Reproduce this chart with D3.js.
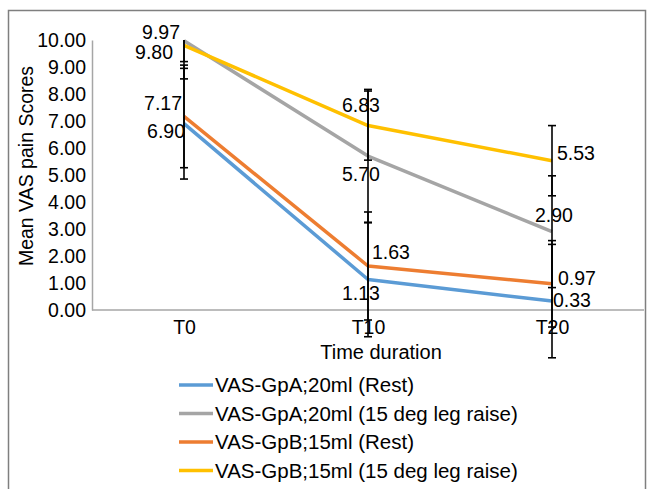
<!DOCTYPE html>
<html>
<head>
<meta charset="utf-8">
<script src="https://cdn.jsdelivr.net/npm/d3@7"></script>
<style>
  body { margin: 0; background: #fff; }
  text { font-family: "Liberation Sans", Arial, sans-serif; fill: #000; }
</style>
</head>
<body>
<div id="chart"></div>
<script>
// chart values
var categories = ["T0", "T10", "T20"];
var seriesNames = [
    "VAS-GpA;20ml (Rest)",
    "VAS-GpA;20ml (15 deg leg raise)",
    "VAS-GpB;15ml (Rest)",
    "VAS-GpB;15ml (15 deg leg raise)"
];
var gpARest = [6.90, 1.13, 0.33];
var gpALeg = [9.97, 5.70, 2.90];
var gpBRest = [7.17, 1.63, 0.97];
var gpBLeg = [9.80, 6.83, 5.53];
// error bar half widths (read from the caps)
var errGpARest = [2.05, 2.12, 2.10];
var errGpALeg = [1.41, 2.47, 2.07];
var errGpBRest = [1.90, 2.00, 1.60];
var errGpBLeg = [0.60, 1.28, 1.30];
var yTicks = [0, 1, 2, 3, 4, 5, 6, 7, 8, 9, 10];

// styling / layout, kept apart from the values
var colors = ["#5b9bd5", "#a5a5a5", "#ed7d31", "#ffc000"];
// where each value label sits relative to its point: [dx, dy, anchor]
var labelPlace = [
    [[1, 7, "end"], [-7, 13.5, "middle"], [1, -1, "start"]],
    [[-4, -9, "end"], [-7, 18, "middle"], [2, -17, "middle"]],
    [[-2, -13, "end"], [4, -14, "start"], [6, -6, "start"]],
    [[-11, 6.6, "end"], [-7, -20, "middle"], [5, -8, "start"]]
];

var values = [gpARest, gpALeg, gpBRest, gpBLeg];
var errors = [errGpARest, errGpALeg, errGpBRest, errGpBLeg];

var width = 647, height = 489, fs = 19.5;

var svg = d3.select("#chart").append("svg")
    .attr("width", width)
    .attr("height", height);

// outer frame
svg.append("rect")
    .attr("x", 8.5).attr("y", 10.5)
    .attr("width", 637).attr("height", 500)
    .attr("fill", "none")
    .attr("stroke", "#7f7f7f")
    .attr("stroke-width", 1.5);

var x = d3.scalePoint().domain(categories).range([92, 644]).padding(0.5),
    y = d3.scaleLinear().domain([0, 10]).range([310, 40]);

// axes
var yAxis = svg.append("g")
    .attr("transform", "translate(92,0)")
    .call(d3.axisLeft(y).tickValues(yTicks).tickFormat(d3.format(".2f")).tickSize(0).tickPadding(6));
yAxis.select(".domain").attr("stroke", "#a6a6a6").attr("stroke-width", 1.5);
yAxis.selectAll("text").style("font-size", fs + "px").style("font-family", null);

var xAxis = svg.append("g")
    .attr("transform", "translate(0,310)")
    .call(d3.axisBottom(x).tickSize(0).tickPadding(10));
xAxis.select(".domain").attr("stroke", "#a6a6a6").attr("stroke-width", 1.5)
    .attr("d", "M92,0H644");
xAxis.selectAll("text").style("font-size", fs + "px").style("font-family", null);

svg.append("text")
    .attr("x", 381).attr("y", 352).attr("dy", "0.35em")
    .attr("text-anchor", "middle")
    .style("font-size", "20px")
    .text("Time duration");

svg.append("text")
    .attr("transform", "translate(26,166) rotate(-90)")
    .attr("dy", "0.35em")
    .attr("text-anchor", "middle")
    .style("font-size", fs + "px")
    .text("Mean VAS pain Scores");

// lines
var line = d3.line()
    .x(function(d, i) { return x(categories[i]); })
    .y(function(d) { return y(d); });

svg.selectAll("path.series")
    .data(values)
    .enter().append("path")
    .attr("class", "series")
    .attr("d", line)
    .attr("fill", "none")
    .attr("stroke", function(d, i) { return colors[i]; })
    .attr("stroke-width", 3.5)
    .attr("stroke-linejoin", "round");

// error bars
var bars = [];
values.forEach(function(s, si) {
    s.forEach(function(v, ci) {
        bars.push({c: categories[ci], lo: v - errors[si][ci], hi: Math.min(10, v + errors[si][ci]),
                   capHi: v + errors[si][ci] <= 10});
    });
});
var eb = svg.append("g").attr("stroke", "#000").attr("stroke-width", 1.6);
bars.forEach(function(b) {
    var cx = x(b.c);
    eb.append("line").attr("x1", cx).attr("x2", cx).attr("y1", y(b.hi)).attr("y2", y(b.lo));
    eb.append("line").attr("x1", cx - 4).attr("x2", cx + 4).attr("y1", y(b.lo)).attr("y2", y(b.lo));
    if (b.capHi) {
        eb.append("line").attr("x1", cx - 4).attr("x2", cx + 4).attr("y1", y(b.hi)).attr("y2", y(b.hi));
    }
});

// value labels
values.forEach(function(s, si) {
    s.forEach(function(v, ci) {
        var p = labelPlace[si][ci];
        svg.append("text")
            .attr("x", x(categories[ci]) + p[0])
            .attr("y", y(v) + p[1])
            .attr("dy", "0.35em")
            .attr("text-anchor", p[2])
            .style("font-size", fs + "px")
            .text(d3.format(".2f")(v));
    });
});

// legend
var leg = svg.selectAll("g.leg")
    .data(seriesNames)
    .enter().append("g")
    .attr("class", "leg")
    .attr("transform", function(d, i) { return "translate(179," + (385 + i * 28.5) + ")"; });
leg.append("line")
    .attr("x1", 0).attr("x2", 34)
    .attr("stroke", function(d, i) { return colors[i]; })
    .attr("stroke-width", 3.5);
leg.append("text")
    .attr("x", 36).attr("dy", "0.35em")
    .style("font-size", "20.5px")
    .text(function(d) { return d; });
</script>
</body>
</html>
